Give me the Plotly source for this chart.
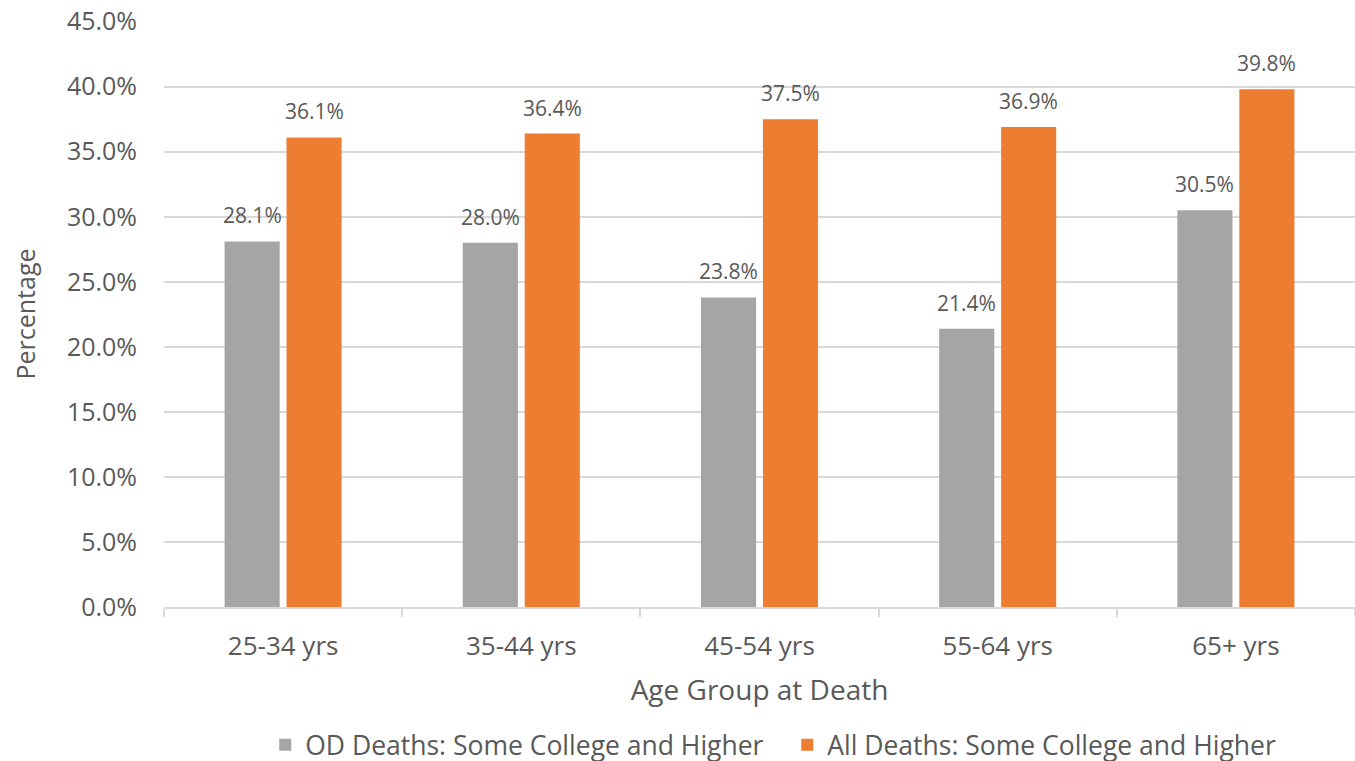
import plotly.graph_objects as go

categories = ["25-34 yrs", "35-44 yrs", "45-54 yrs", "55-64 yrs", "65+ yrs"]
od_deaths = [0.281, 0.280, 0.238, 0.214, 0.305]
all_deaths = [0.361, 0.364, 0.375, 0.369, 0.398]
series_names = ["OD Deaths: Some College and Higher", "All Deaths: Some College and Higher"]
y_ticks = [0.0, 0.05, 0.10, 0.15, 0.20, 0.25, 0.30, 0.35, 0.40, 0.45]

FONT = "Open Sans"
TXT = "#595959"
BARGAP = 0.48
SLOT = (1 - BARGAP) / 2

fig = go.Figure()
fig.add_trace(go.Bar(x=categories, y=od_deaths, name=series_names[0],
                     marker=dict(color="#a5a5a5", line=dict(width=0))))
fig.add_trace(go.Bar(x=categories, y=all_deaths, name=series_names[1],
                     marker=dict(color="#ed7d31", line=dict(width=0))))

annotations = []
for series, off in ((od_deaths, -SLOT / 2), (all_deaths, SLOT / 2)):
    for i, v in enumerate(series):
        annotations.append(dict(x=i + off, y=v, xref="x", yref="y", text=f"{v*100:.1f}%",
                                showarrow=False, yanchor="bottom", yshift=10,
                                font=dict(family=FONT, size=21, color=TXT)))

fig.update_layout(
    width=1355, height=781,
    margin=dict(l=164, r=0, t=21, b=174),
    paper_bgcolor="white", plot_bgcolor="white",
    barmode="group", bargap=BARGAP, bargroupgap=0.11,
    font=dict(family=FONT, color=TXT),
    showlegend=True,
    annotations=annotations,
    legend=dict(orientation="h", x=0.085, xanchor="left", y=-0.2355, yanchor="middle",
                font=dict(family=FONT, size=26.5, color=TXT), itemwidth=30,
                entrywidth=477, entrywidthmode="pixels",
                traceorder="normal"),
    xaxis=dict(
        title=dict(text="Age Group at Death", font=dict(family=FONT, size=28, color=TXT), standoff=18),
        tickfont=dict(family=FONT, size=26, color=TXT),
        showline=True, linecolor="#d9d9d9", linewidth=2,
        ticks="outside", tickson="boundaries", ticklen=8, tickcolor="#d9d9d9", tickwidth=2,
        showgrid=False, automargin=False, ticklabelstandoff=15,
    ),
    yaxis=dict(
        title=dict(text="Percentage", font=dict(family=FONT, size=25, color=TXT), standoff=24),
        tickfont=dict(family=FONT, size=25, color=TXT),
        range=[0, 0.4505], tickmode="array", tickvals=y_ticks,
        ticktext=[f"{v*100:.1f}%" for v in y_ticks],
        showgrid=True, gridcolor="#d9d9d9", gridwidth=2,
        zeroline=False, showline=False, ticks="", ticklabelstandoff=26,
        automargin=False,
    ),
)

fig.write_html("out.html", config={"displayModeBar": False},
               post_script="document.body.style.margin='0px';")
